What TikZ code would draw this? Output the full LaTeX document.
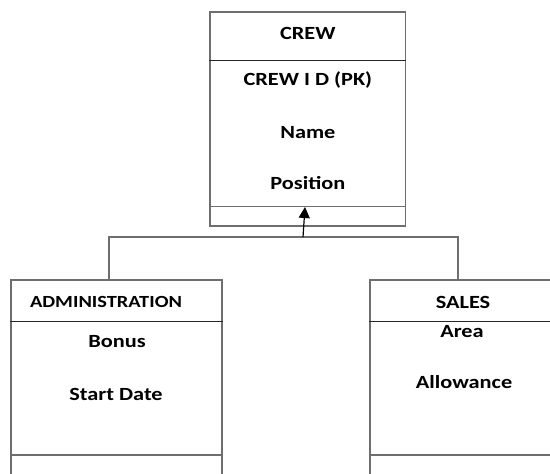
\documentclass[tikz,border=0pt]{standalone}
\usepackage{fontspec}
\setmainfont{Carlito}[FakeStretch=1.2]
\usetikzlibrary{arrows.meta}
\definecolor{lineg}{HTML}{6E6E6E}
\begin{document}
\begin{tikzpicture}[x=1pt,y=-1pt,
  box/.style={draw=lineg, line width=1.1pt, inner sep=0pt},
  divider/.style={draw=black!85, line width=0.9pt},
  conn/.style={draw=lineg, line width=1.1pt},
  lbl/.style={font=\bfseries\fontsize{18.6}{20}\selectfont, inner sep=0pt},
  arr/.style={draw=black, line width=1.2pt, -{Triangle[length=11pt,width=11pt]}}]
\useasboundingbox (0,0) rectangle (550,474);
\clip (0,0) rectangle (550,474);
% boxes
\node[box, minimum width=195.7pt, minimum height=214pt] (crew) at (307.85,119) {};
\node[box, minimum width=211pt, minimum height=220pt] (admin) at (116.5,390) {};
\node[box, minimum width=186pt, minimum height=220pt] (sales) at (463,390) {};
% compartments
\draw[divider] (crew.west |- 0,60) -- (crew.east |- 0,60);
\draw[conn] (crew.west |- 0,206.5) -- (crew.east |- 0,206.5);
\draw[divider] (admin.west |- 0,321) -- (admin.east |- 0,321);
\draw[conn] (admin.west |- 0,455) -- (admin.east |- 0,455);
\draw[divider] (sales.west |- 0,321) -- (sales.east |- 0,321);
\draw[conn] (sales.west |- 0,455) -- (sales.east |- 0,455);
% texts
\node[lbl] (t1) at (307.85,33) {CREW};
\node[lbl] (t2) at (307.85,80) {CREW I D (PK)};
\node[lbl] (t3) at (307.85,133) {Name};
\node[lbl] (t4) at (307.85,183) {Position};
\node[lbl, font=\bfseries\fontsize{17}{19}\selectfont] (t5) at (106,302) {ADMINISTRATION};
\node[lbl] (t6) at (117,342) {Bonus};
\node[lbl] (t7) at (116,394) {Start Date};
\node[lbl] (t8) at (463,302) {SALES};
\node[lbl] (t9) at (462,332) {Area};
\node[lbl] (t10) at (464,382) {Allowance};
% connectors
\coordinate (al) at (109,280);
\coordinate (ar) at (458,280);
\coordinate (j) at (303,237);
\coordinate (tip) at (305,207);
\draw[conn] (al) -- (al |- j) -- (ar |- j) -- (ar);
\draw[arr] (j) -- (tip);
\end{tikzpicture}
\end{document}
